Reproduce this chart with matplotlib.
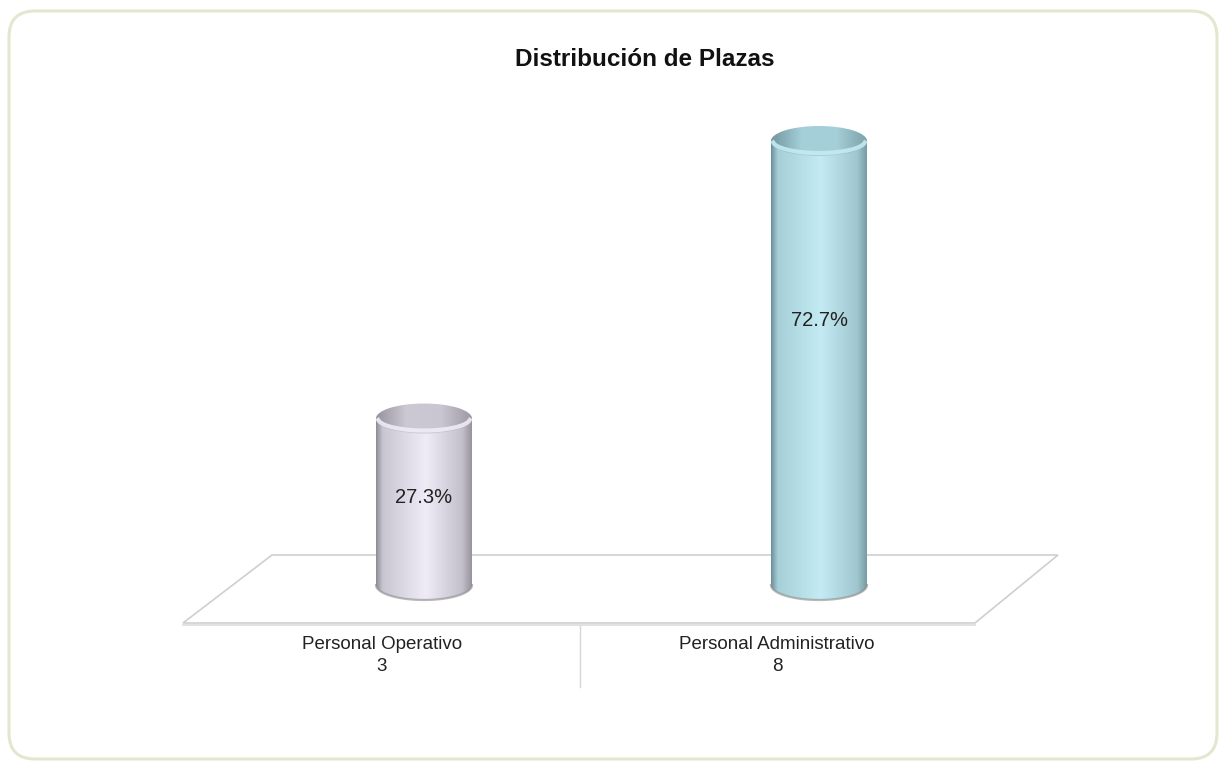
import numpy as np
import matplotlib
matplotlib.use("Agg")
import matplotlib.pyplot as plt
from matplotlib.patches import FancyBboxPatch, Polygon, PathPatch, Ellipse
from matplotlib.path import Path
from matplotlib.colors import LinearSegmentedColormap

# datos
categorias = ["Personal Operativo", "Personal Administrativo"]
plazas = [3, 8]
titulo = "Distribución de Plazas"

# colores de cada cilindro: borde, lado izq, brillo, lado der, borde
colores = [
    ["#8e8c96", "#c9c6d2", "#efebf7", "#c3bfcb", "#97949e"],
    ["#6d8e98", "#a6cfd8", "#c4ebf3", "#a0c7cf", "#769ba3"],
]
tapas = ["#cdc9d3", "#a4d0d9"]

total = sum(plazas)
porcentajes = [100.0 * p / total for p in plazas]

fig = plt.figure(figsize=(12.21, 7.63), dpi=100)

# fondo con marco redondeado, piso y separador (en pixeles)
bg = fig.add_axes([0, 0, 1, 1])
bg.set_xlim(0, 1221)
bg.set_ylim(763, 0)
bg.axis("off")
bg.add_patch(FancyBboxPatch((9, 11), 1208, 748, boxstyle="round,pad=0,rounding_size=26",
                            fc="white", ec="#e3e7cf", lw=2.2))
bg.add_patch(Polygon([(272, 555), (1058, 555), (975, 623), (183, 623)], closed=True,
                     fc="white", ec="#cfcfcf", lw=1.2))
bg.plot([183, 975], [624.5, 624.5], color="#dcdcdc", lw=1.2)
bg.plot([580, 580], [626, 687], color="#d6d6d6", lw=1)
bg.text(645, 59, titulo, ha="center", va="center", fontsize=17.5, fontweight="bold",
        family=["Liberation Sans", "DejaVu Sans"], color="#111111")

# ejes de datos para los cilindros
px_izq, px_der, px_arr, px_aba = 180, 1060, 60, 700
ax = fig.add_axes([px_izq / 1221, 1 - px_aba / 763, (px_der - px_izq) / 1221, (px_aba - px_arr) / 763])
ax.patch.set_alpha(0)
ax.axis("off")

esc_y = 55.5          # pixeles por unidad
esc_x = 395.0
y0_px = 585
ylim = (-(px_aba - y0_px) / esc_y, (y0_px - px_arr) / esc_y)
xlim = (-(424 - px_izq) / esc_x, 1 + (px_der - 819) / esc_x)

ancho = 96 / esc_x
alto_elipse = 30 / esc_y

grad = np.linspace(0, 1, 256).reshape(1, -1)

for i, (v, cols) in enumerate(zip(plazas, colores)):
    xc = i
    x0, x1 = xc - ancho / 2, xc + ancho / 2
    cmap = LinearSegmentedColormap.from_list("c%d" % i, list(zip([0, 0.07, 0.52, 0.9, 1], cols)))
    t = np.linspace(np.pi, 2 * np.pi, 60)
    arco = np.column_stack([xc + ancho / 2 * np.cos(t), alto_elipse / 2 * np.sin(t)])
    verts = [(x0, v)] + [tuple(p) for p in arco] + [(x1, v), (x0, v)]
    codes = [Path.MOVETO] + [Path.LINETO] * (len(verts) - 2) + [Path.CLOSEPOLY]
    cuerpo = PathPatch(Path(verts, codes), fc="none", ec="none")
    ax.add_patch(cuerpo)
    im = ax.imshow(grad, extent=[x0, x1, -alto_elipse, v + 0.1], aspect="auto", cmap=cmap, zorder=2)
    im.set_clip_path(cuerpo)
    # sombra inferior
    ax.plot(arco[:, 0], arco[:, 1], color="#8a8a8a", lw=1.6, alpha=0.6, zorder=3)
    # tapa
    tapa = Ellipse((xc, v), ancho, alto_elipse, fc="none", ec="none")
    ax.add_patch(tapa)
    cmap_t = LinearSegmentedColormap.from_list("t%d" % i, [cols[0], tapas[i], cols[1], cols[4]])
    im2 = ax.imshow(grad, extent=[x0 - 0.01, x1 + 0.01, v - alto_elipse, v + alto_elipse],
                    aspect="auto", cmap=cmap_t, zorder=4)
    im2.set_clip_path(tapa)
    t2 = np.linspace(np.pi * 1.04, np.pi * 1.96, 40)
    ax.plot(xc + ancho / 2 * 0.96 * np.cos(t2), v + alto_elipse / 2 * 0.8 * np.sin(t2),
            color=cols[2], lw=3, alpha=0.9, zorder=5)
    ax.text(xc, v * 0.64 - 0.35, "%.1f%%" % porcentajes[i], ha="center", va="center",
            fontsize=14.5, family=["Liberation Sans", "DejaVu Sans"], color="#222222", zorder=6)

# etiquetas de categoria, desplazadas por la perspectiva del piso
desplaz = -42 / esc_x
for i, (c, v) in enumerate(zip(categorias, plazas)):
    ax.text(i + desplaz, -1.27, "%s\n%d" % (c, v), ha="center", va="center", fontsize=13.5,
            family=["Liberation Sans Narrow", "Liberation Sans", "DejaVu Sans"],
            color="#222222", linespacing=1.45)

ax.set_xlim(*xlim)
ax.set_ylim(*ylim)

fig.savefig("out.png", dpi=100)
